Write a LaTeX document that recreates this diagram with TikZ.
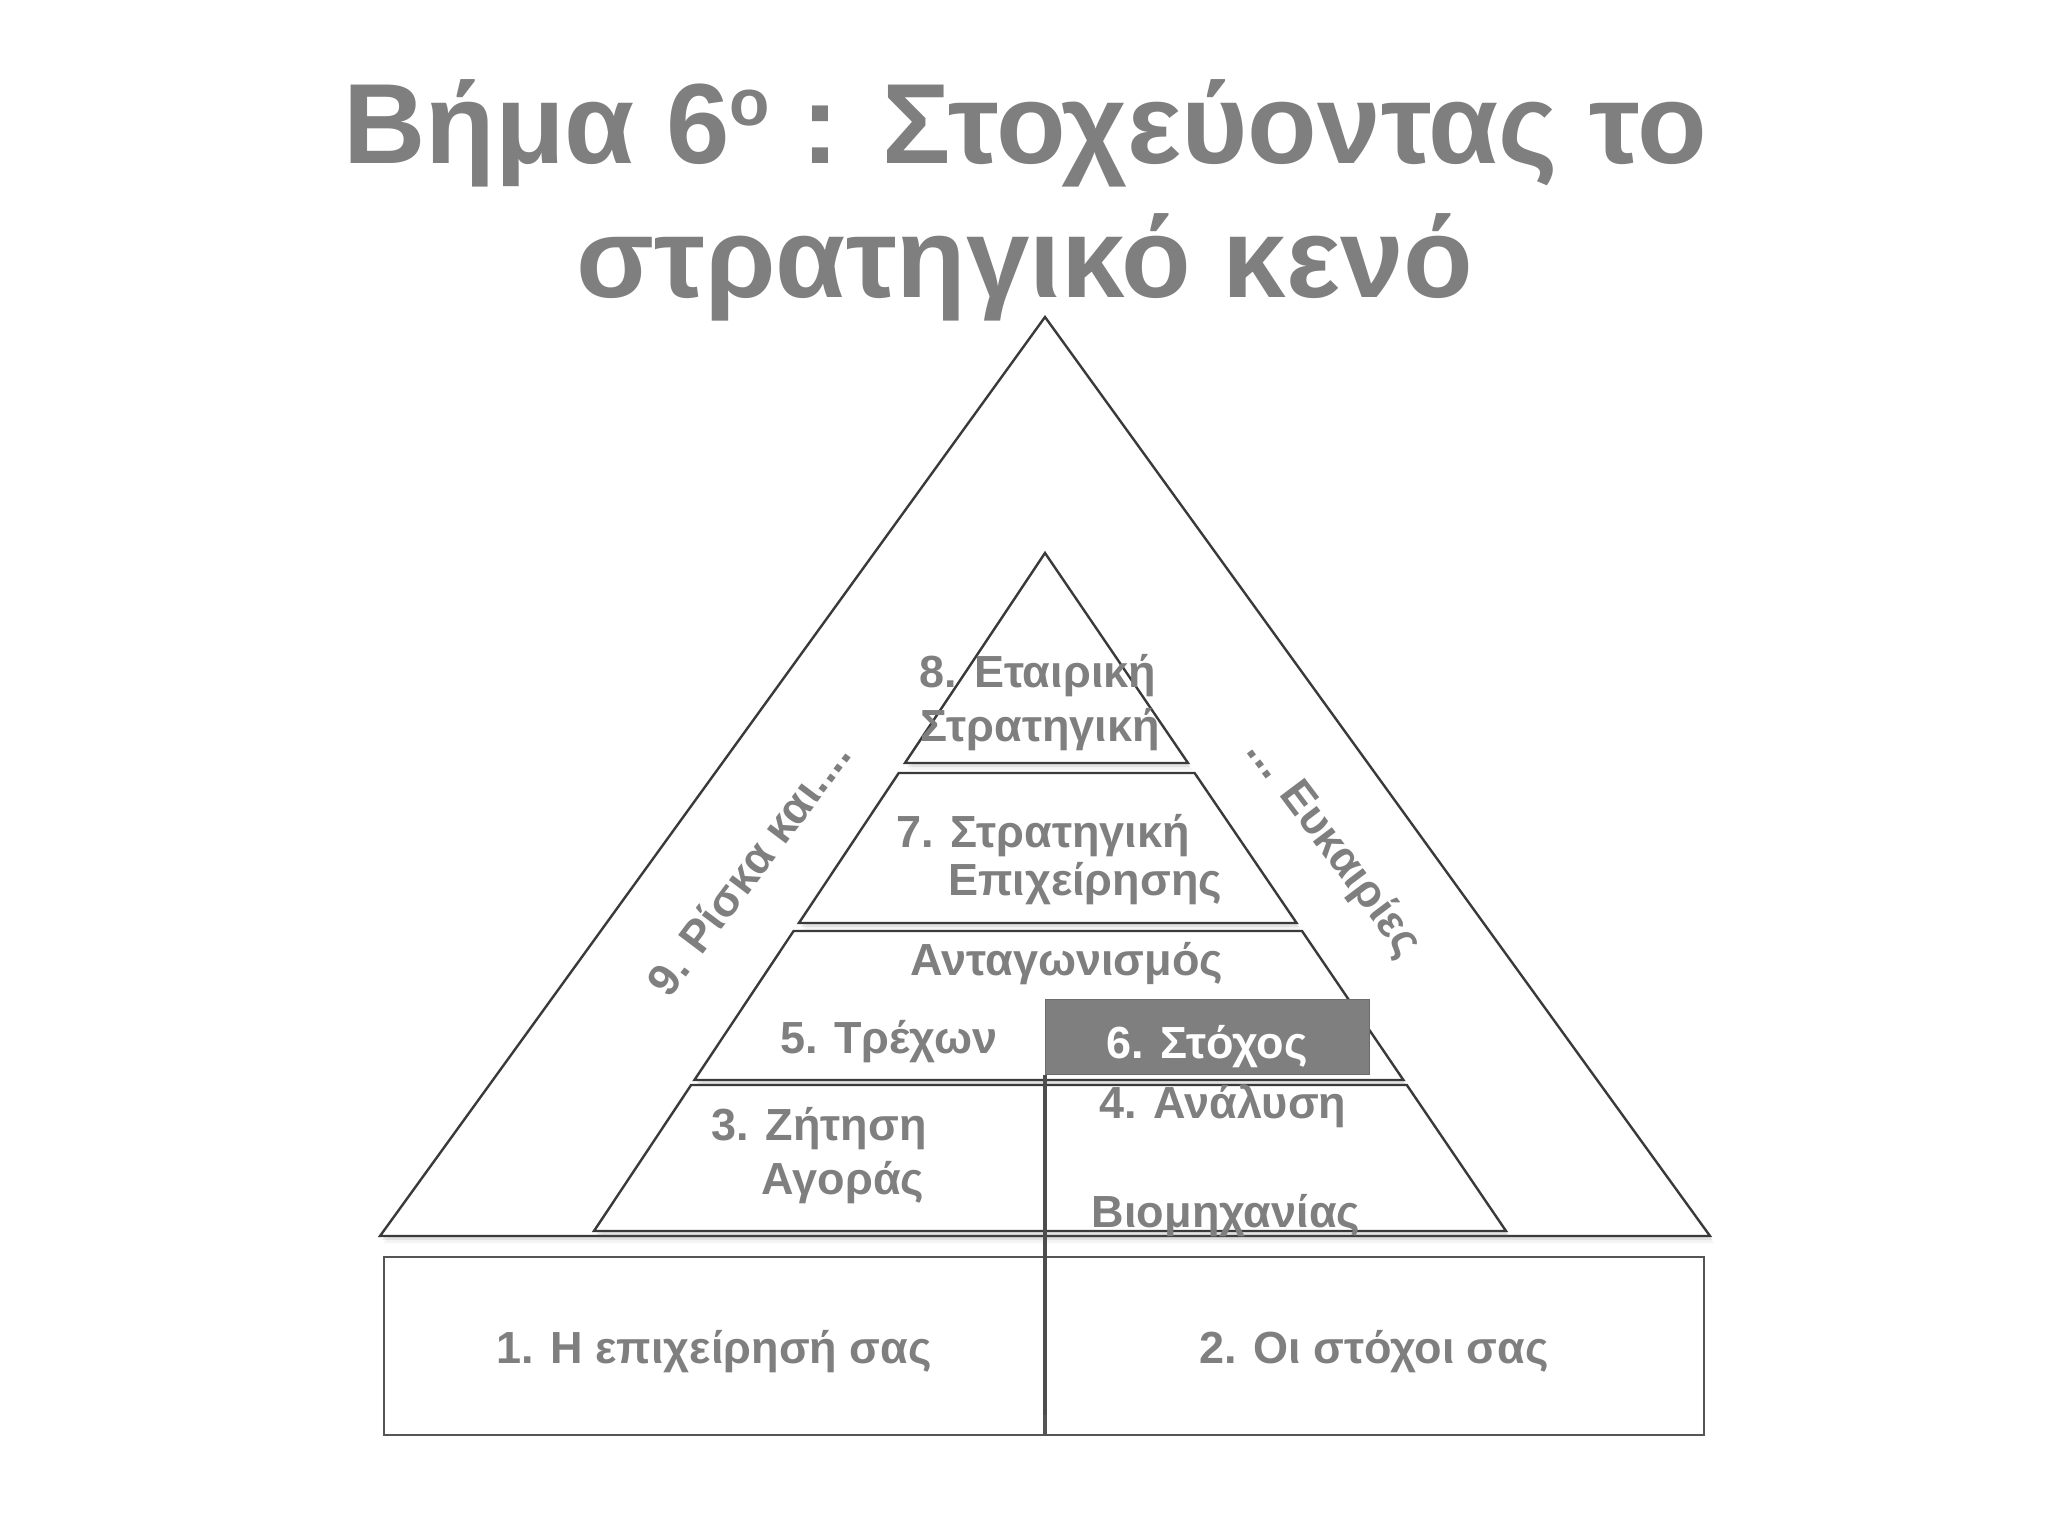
\documentclass[tikz,border=0pt]{standalone}
\usepackage{fontspec}
\setmainfont{Liberation Sans}
\usetikzlibrary{shadows}
\definecolor{txtgray}{HTML}{7F7F7F}
\definecolor{linegray}{HTML}{3A3A3A}
\definecolor{vgray}{HTML}{4D4D4D}
\definecolor{boxline}{HTML}{555555}
\begin{document}
\begin{tikzpicture}[x=0.5pt,y=-0.5pt,
  layer/.style={draw=linegray, line width=1.2pt, fill=white, line join=miter,
    drop shadow={shadow xshift=2pt, shadow yshift=-3.5pt, opacity=0.08},
    drop shadow={shadow xshift=1.2pt, shadow yshift=-2pt, opacity=0.16}},
  lbl/.style={text=txtgray, font=\fontsize{22.5}{27}\selectfont\bfseries, inner sep=0pt, anchor=base},
  ttl/.style={text=txtgray, font=\fontsize{57}{67}\selectfont\bfseries, inner sep=0pt, anchor=base},
  basebox/.style={draw=boxline, line width=1.1pt, fill=white, inner sep=0pt, anchor=north west}]
\path[fill=white] (0,0) rectangle (2048,1536);
\useasboundingbox (0,0) rectangle (2048,1536);
% title
\node[ttl] (title1) at (1025,163) {Βήμα 6\raisebox{19pt}{\fontsize{33}{34}\selectfont ο} : Στοχεύοντας το};
\node[ttl] (title2) at (1025,297) {στρατηγικό κενό};
% outer triangle
\draw[layer] (1045,317) -- (1710,1236) -- (380,1236) -- cycle;
% inner pyramid layers
\draw[layer] (1045,553) -- (1188,763) -- (905,763) -- cycle;
\draw[layer] (898.7,773) -- (1194.6,773) -- (1296.6,923) -- (798.9,923) -- cycle;
\draw[layer] (793.6,931) -- (1302,931) -- (1403.4,1080) -- (694.4,1080) -- cycle;
\draw[layer] (691.1,1085) -- (1406.8,1085) -- (1506,1231) -- (594,1231) -- cycle;
% bottom boxes
\node[basebox, minimum width=330pt, minimum height=89pt] (b1) at (383,1256) {};
\node[basebox, minimum width=329pt, minimum height=89pt] (b2) at (1045,1256) {};
% labels
\node[lbl] (t8a) at (1038,687) {8. Εταιρική};
\node[lbl] (t8b) at (1040,741) {Στρατηγική};
\node[lbl] (t7a) at (1043,847) {7. Στρατηγική};
\node[lbl] (t7b) at (1085,895) {Επιχείρησης};
\node[lbl] (tant) at (1067,975) {Ανταγωνισμός};
\node[lbl] (t5) at (889,1053) {5. Τρέχων};
\node[lbl] (t4) at (1223,1118) {4. Ανάλυση};
\node[lbl] (t3a) at (819,1140) {3. Ζήτηση};
\node[lbl] (t3b) at (843,1194) {Αγοράς};
\node[lbl] (tbio) at (1226,1227) {Βιομηχανίας};
\node[lbl] (t1) at (714,1363) {1. Η επιχείρησή σας};
\node[lbl] (t2) at (1374,1363) {2. Οι στόχοι σας};
\node[lbl, anchor=center, rotate=53] (t9) at (748,868) {9. Ρίσκα και....};
\node[lbl, anchor=center, rotate=-53] (teuk) at (1333,848) {... Ευκαιρίες};
% target box
\node[fill=txtgray, draw=txtgray!85!black, line width=0.5pt, inner sep=0pt, minimum width=162pt, minimum height=37.5pt, anchor=north west] (stoxos) at (1045,999) {};
\node[lbl, text=white] (t6) at (1207,1058) {6. Στόχος};
% vertical line
\coordinate (vend) at (1045,1415);
\draw[draw=vgray, line width=2.2pt] (stoxos.south west) -- (vend);
\end{tikzpicture}
\end{document}
